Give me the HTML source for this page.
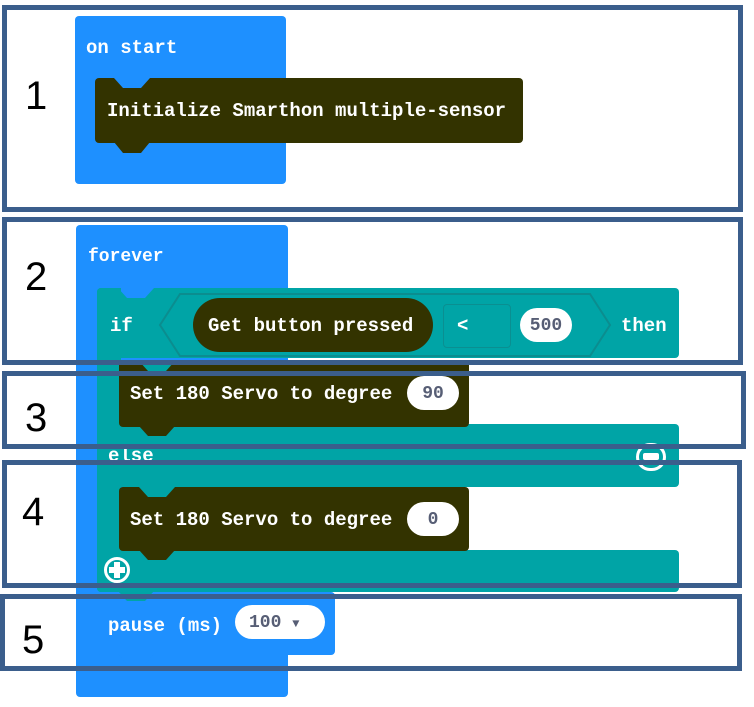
<!DOCTYPE html>
<html><head><style>
body{margin:0;width:754px;height:707px;background:#fff;position:relative;overflow:hidden;font-family:"Liberation Mono",monospace;}
div{position:absolute;box-sizing:border-box;}
.b{background:#1e90ff;border-radius:4px;}
.t{background:#00a4a6;border-radius:4px;}
.d{background:#333300;border-radius:4px;}
.tx{color:#fff;font-size:19px;font-weight:bold;white-space:nowrap;line-height:20px;}
.pill{background:#fff;border-radius:18px;color:#575e75;font-size:18px;font-weight:bold;text-align:center;line-height:36px;height:34px;}
.f{border:5px solid #3b5e8c;}
.n{font-family:"Liberation Sans",sans-serif;font-size:40px;color:#000;line-height:40px;}
.nt{width:36px;height:10px;clip-path:polygon(0 0,100% 0,75% 100%,25% 100%)}
</style></head><body>
<!-- block 1 -->
<div class="b" style="left:75px;top:16px;width:211px;height:168px"></div>
<div class="tx" style="left:86px;top:38px">on start</div>
<div class="d" style="left:95px;top:78px;width:428px;height:65px"></div>
<div class="nt" style="left:114px;top:78px;background:#1e90ff"></div>
<div class="nt" style="left:114px;top:142px;height:11px;background:#333300"></div>
<div class="tx" style="left:107px;top:101px">Initialize Smarthon multiple-sensor</div>

<!-- forever -->
<div class="b" style="left:76px;top:225px;width:212px;height:472px"></div>
<div class="tx" style="left:88px;top:247px;font-size:18px">forever</div>
<div class="t" style="left:97px;top:288px;width:582px;height:70px"></div>
<div class="nt" style="left:118px;top:288px;background:#1e90ff"></div>
<div class="t" style="left:97px;top:288px;width:24px;height:304px;border-radius:4px 0 0 4px"></div>
<svg style="position:absolute;left:158px;top:292px" width="456" height="66"><polygon points="22,2 432,2 452,33 432,64 22,64 2,33" fill="none" stroke="#0b8d8f" stroke-width="2"/></svg>
<div class="tx" style="left:110px;top:316px">if</div>
<div class="d" style="left:193px;top:298px;width:240px;height:54px;border-radius:27px"></div>
<div class="tx" style="left:208px;top:316px">Get button pressed</div>
<div style="left:443px;top:304px;width:68px;height:44px;border:1px solid #0a8f91;border-radius:4px;"></div>
<div class="tx" style="left:457px;top:316px">&lt;</div>
<div class="pill" style="left:520px;top:308px;width:52px">500</div>
<div class="tx" style="left:621px;top:316px">then</div>

<div class="t" style="left:97px;top:424px;width:582px;height:63px"></div>
<div class="tx" style="left:108px;top:446px">else</div>
<div style="left:636px;top:443px;width:30px;height:28px;border:3px solid #fff;border-radius:14px"></div>
<div style="left:643px;top:453px;width:16px;height:7px;background:#fff;border-radius:2px"></div>
<div class="t" style="left:97px;top:550px;width:582px;height:42px"></div>
<div style="left:104px;top:557px;width:26px;height:26px;border:3px solid #fff;border-radius:13px"></div>
<div style="left:114px;top:562px;width:6px;height:16px;background:#fff"></div>
<div style="left:109px;top:567px;width:16px;height:6px;background:#fff"></div>

<div class="d" style="left:119px;top:361px;width:350px;height:66px"></div>
<div class="nt" style="left:139px;top:361px;background:#00a4a6"></div>
<div class="nt" style="left:139px;top:426px;background:#333300"></div>
<div class="tx" style="left:130px;top:384px">Set 180 Servo to degree</div>
<div class="pill" style="left:407px;top:376px;width:52px">90</div>

<div class="d" style="left:119px;top:487px;width:350px;height:64px"></div>
<div class="nt" style="left:139px;top:487px;background:#00a4a6"></div>
<div class="nt" style="left:139px;top:550px;background:#333300"></div>
<div class="tx" style="left:130px;top:510px">Set 180 Servo to degree</div>
<div class="pill" style="left:407px;top:502px;width:52px">0</div>

<div class="b" style="left:97px;top:592px;width:238px;height:63px"></div>
<div class="nt" style="left:118px;top:591px;background:#00a4a6"></div>
<div class="nt" style="left:118px;top:654px;background:#1e90ff"></div>
<div class="tx" style="left:108px;top:616px">pause (ms)</div>
<div class="pill" style="left:235px;top:605px;width:90px;text-align:left;padding-left:14px">100 <span style="font-size:12px">▼</span></div>

<!-- frames -->
<div class="f" style="left:2px;top:5px;width:741px;height:207px"></div>
<div class="f" style="left:2px;top:217px;width:741px;height:148px"></div>
<div class="f" style="left:2px;top:371px;width:744px;height:78px"></div>
<div class="f" style="left:2px;top:460px;width:740px;height:128px"></div>
<div class="f" style="left:0px;top:594px;width:742px;height:77px"></div>

<div class="n" style="left:25px;top:76px">1</div>
<div class="n" style="left:25px;top:257px">2</div>
<div class="n" style="left:25px;top:398px">3</div>
<div class="n" style="left:22px;top:492px">4</div>
<div class="n" style="left:22px;top:620px">5</div>
</body></html>
